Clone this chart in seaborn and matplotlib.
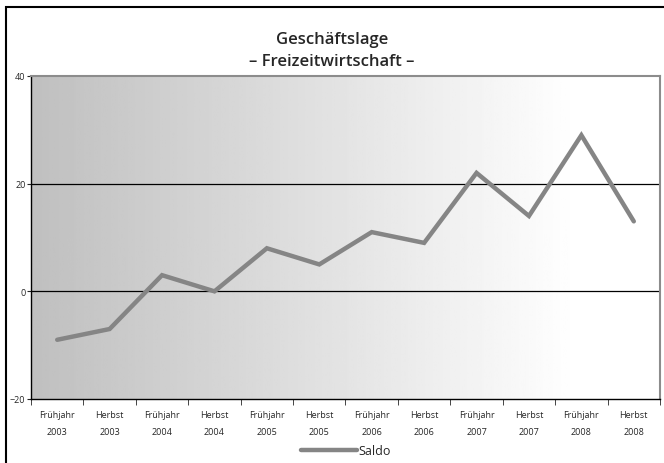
import numpy as np
import pandas as pd
import seaborn as sns
import matplotlib.pyplot as plt
from matplotlib.patches import Rectangle

sns.set_style("white")
plt.rcParams['font.family'] = ['Open Sans', 'DejaVu Sans']

# Data
seasons = ['Frühjahr', 'Herbst'] * 6
years = ['2003', '2003', '2004', '2004', '2005', '2005',
         '2006', '2006', '2007', '2007', '2008', '2008']
saldo = [-9, -7, 3, 0, 8, 5, 11, 9, 22, 14, 29, 13]
tick_labels = [s + '\n' + y for s, y in zip(seasons, years)]

df = pd.DataFrame({'pos': np.arange(len(saldo)), 'Saldo': saldo})

fig = plt.figure(figsize=(6.64, 4.64), dpi=100)
ax = fig.add_axes([31 / 664, 1 - 400 / 464, 629 / 664, 323 / 464])

# gradient background (gray -> white)
grad = np.linspace(0, 1, 256)
grad = np.clip(grad / 0.87, 0, 1).reshape(1, -1)
ax.imshow(grad, extent=[-0.5, 11.5, -20, 40], aspect='auto',
          cmap='gray', vmin=-3.0, vmax=1.0, zorder=0)
ax.set_xlim(-0.5, 11.5)
ax.set_ylim(-20, 40)

for yv in [0, 20]:
    ax.axhline(yv, color='black', lw=0.9, zorder=1)

sns.lineplot(data=df, x='pos', y='Saldo', color='#858585', lw=3.2,
             ax=ax, label='Saldo', zorder=3, solid_joinstyle='miter')

# axes styling
for side in ['top', 'right']:
    ax.spines[side].set_color('#8c8c8c')
    ax.spines[side].set_linewidth(1.5)
for side in ['left', 'bottom']:
    ax.spines[side].set_color('black')
    ax.spines[side].set_linewidth(1.0)

ax.set_yticks([-20, 0, 20, 40])
ax.tick_params(axis='y', labelsize=6.5, length=3, direction='out', left=True,
               pad=1)
ax.set_xticks(np.arange(len(saldo)))
ax.set_xticklabels(tick_labels, fontsize=6.5, linespacing=2.1)
ax.set_xticks(np.arange(-0.5, 12, 1), minor=True)
ax.tick_params(axis='x', which='major', length=0, pad=8)
ax.tick_params(axis='x', which='minor', length=4, direction='out', bottom=True)
ax.set_xlabel('')
ax.set_ylabel('')

fig.suptitle('Geschäftslage\n– Freizeitwirtschaft –', y=0.932,
             fontsize=12, fontweight='semibold', linespacing=1.5)

leg = ax.legend(loc='center', bbox_to_anchor=(0.5, -0.16), frameon=False,
                fontsize=9, handlelength=4.5, handletextpad=0.1)

# outer chart border
fig.patches.append(Rectangle((6 / 664, -0.1), 2, 1 - 8 / 464 + 0.1,
                             transform=fig.transFigure, fill=False,
                             edgecolor='black', lw=1.5))

plt.savefig('out.png', dpi=100)
